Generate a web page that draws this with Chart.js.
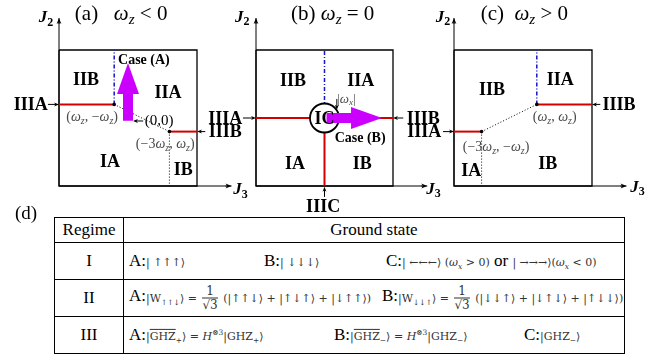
<!DOCTYPE html>
<html>
<head>
<meta charset="utf-8">
<script src="https://cdn.jsdelivr.net/npm/chart.js@4.4.0/dist/chart.umd.min.js"></script>
<style>
	body {margin: 0; width: 657px; height: 358px; overflow: hidden; position: relative; background: #fff; font-family: "Liberation Serif", serif;}
	canvas {position: absolute; left: 0; top: 0;}
	#dlab {position: absolute; left: 15px; top: 202px; font-size: 19px;}
	#tab {position: absolute; left: 54px; top: 217px; width: 571px; border-collapse: collapse; font-size: 17px;}
	#tab td {border: 1.3px solid #000; padding: 0; vertical-align: middle;}
	#tab td.c1 {width: 68px; text-align: center;}
	#tab tr.h td {height: 24px;}
	#tab tr.r td {height: 36px;}
	.row {position: relative; height: 36px;}
	.row > span {position: absolute; top: 50%; transform: translateY(-50%); white-space: nowrap;}
	.k {font-family: "DejaVu Serif", serif; font-size: 11px; color: #333;}
	.k sub {font-size: 7.5px;}
	.k sup {font-size: 7.5px;}
	.fr {display: inline-block; vertical-align: middle; text-align: center; font-size: 12px; line-height: 13px; margin: 0 2px;}
	.fr span {display: block;}
	.fr .dn {border-top: 1px solid #333;}
	.ov {text-decoration: overline;}
</style>
</head>
<body>
<canvas id="pa" width="657" height="215"></canvas>
<canvas id="pb" width="657" height="215"></canvas>
<canvas id="pc" width="657" height="215"></canvas>
<div id="dlab">(d)</div>
<table id="tab">
	<tr class="h"><td class="c1">Regime</td><td style="text-align:center">Ground state</td></tr>
	<tr class="r"><td class="c1">I</td><td><div class="row">
		<span style="left:5px">A:<span class="k">| ↑↑↑⟩</span></span>
		<span style="left:140px">B:<span class="k">| ↓↓↓⟩</span></span>
		<span style="left:262px">C:<span class="k">| ←←←⟩ (<i>ω<sub>x</sub></i> &gt; 0)</span> or <span class="k">| →→→⟩(<i>ω<sub>x</sub></i> &lt; 0)</span></span>
	</div></td></tr>
	<tr class="r"><td class="c1">II</td><td><div class="row">
		<span style="left:5px">A:<span class="k">|W<sub>↑↑↓</sub>⟩ = <span class="fr"><span>1</span><span class="dn">√3</span></span> (|↑↑↓⟩ + |↑↓↑⟩ + |↓↑↑⟩)</span></span>
		<span style="left:258px">B:<span class="k">|W<sub>↓↓↑</sub>⟩ = <span class="fr"><span>1</span><span class="dn">√3</span></span> (|↓↓↑⟩ + |↓↑↓⟩ + |↑↓↓⟩)</span></span>
	</div></td></tr>
	<tr class="r"><td class="c1">III</td><td><div class="row">
		<span style="left:5px">A:<span class="k">|<span class="ov">GHZ</span><sub>+</sub>⟩ = <i>H</i><sup>⊗3</sup>|GHZ<sub>+</sub>⟩</span></span>
		<span style="left:210px">B:<span class="k">|<span class="ov">GHZ</span><sub>−</sub>⟩ = <i>H</i><sup>⊗3</sup>|GHZ<sub>−</sub>⟩</span></span>
		<span style="left:400px">C:<span class="k">|GHZ<sub>−</sub>⟩</span></span>
	</div></td></tr>
</table>
<script>
	// every panel: J3 along x, J2 along y, box is [-5,5] x [-5,5], |ω_z| = 1
	var boxJ3 = [-5, 5, 5, -5, -5];
	var boxJ2 = [5, 5, -5, -5, 5];
	var axisUpJ3 = [-5, -5], axisUpJ2 = [-5, 7.35];
	var axisRightJ3 = [-5, 7.5], axisRightJ2 = [-5, -5];

	// (a) ω_z < 0
	var aRedLeftJ3 = [-5, -1], aRedLeftJ2 = [1, 1];
	var aRedRightJ3 = [3, 5], aRedRightJ2 = [-1, -1];
	var aBlueJ3 = [-1, -1], aBlueJ2 = [1, 5];
	var aDotJ3 = [-1, 3], aDotJ2 = [1, -1];
	var aDropJ3 = [3, 3], aDropJ2 = [-1, -5];
	var aCornerJ3 = [-1, 3], aCornerJ2 = [1, -1];
	var aCaseJ3 = [0, 0], aCaseJ2 = [-0.2, 4.05];

	// (b) ω_z = 0
	var bRedHJ3 = [-5, 5], bRedHJ2 = [0, 0];
	var bRedVJ3 = [0, 0], bRedVJ2 = [0, -5];
	var bBlueJ3 = [0, 0], bBlueJ2 = [0, 5];
	var bCentreJ3 = [0], bCentreJ2 = [0];
	var bCaseJ3 = [0.15, 4.2], bCaseJ2 = [0, 0];

	// (c) ω_z > 0
	var cRedLeftJ3 = [-5, -3], cRedLeftJ2 = [-1, -1];
	var cRedRightJ3 = [1, 5], cRedRightJ2 = [1, 1];
	var cBlueJ3 = [1, 1], cBlueJ2 = [1, 5];
	var cDotJ3 = [-3, 1], cDotJ2 = [-1, 1];
	var cDropJ3 = [-3, -3], cDropJ2 = [-1, -5];
	var cCornerJ3 = [-3, 1], cCornerJ2 = [-1, 1];

	var SERIF = '"Liberation Serif", "DejaVu Serif", serif';
	var RED = '#d40000', BLUE = '#1414c8', MAGENTA = '#cc00ff', GREY = '#4a4a4a';

	function seg(xs, ys) {
		return xs.map(function(v, i) { return {x: v, y: ys[i]}; });
	}

	function lineSet(xs, ys, color, width, dash, order) {
		return {
			data: seg(xs, ys), showLine: true, borderColor: color, borderWidth: width,
			borderDash: dash || [], pointRadius: 0, clip: false, order: order
		};
	}

	function dotSet(xs, ys) {
		return {data: seg(xs, ys), showLine: false, pointRadius: 1.8, pointBackgroundColor: '#000', pointBorderWidth: 0, clip: false, order: 0};
	}

	function fontFor(style, size) {
		if(style == 'b') return 'bold ' + size + 'px ' + SERIF;
		if(style == 'bi') return 'bold italic ' + size + 'px ' + SERIF;
		if(style == 'bs') return 'bold ' + Math.round(size * 0.7) + 'px ' + SERIF;
		if(style == 'i') return 'italic ' + size + 'px ' + SERIF;
		if(style == 's') return 'italic ' + Math.round(size * 0.7) + 'px ' + SERIF;
		return size + 'px ' + SERIF;
	}

	function drawRich(ctx, parts, x, y, size, color) {
		ctx.save();
		ctx.fillStyle = color;
		ctx.textAlign = 'left';
		ctx.textBaseline = 'alphabetic';
		var w = 0;
		parts.forEach(function(p) {
			ctx.font = fontFor(p[1], size);
			w += ctx.measureText(p[0]).width;
		});
		var cx = x - w / 2, base = y + size * 0.33;
		parts.forEach(function(p) {
			ctx.font = fontFor(p[1], size);
			var dy = (p[1] == 's' || p[1] == 'bs') ? size * 0.22 : 0;
			ctx.fillText(p[0], cx, base + dy);
			cx += ctx.measureText(p[0]).width;
		});
		ctx.restore();
	}

	function pointer(ctx, x1, y1, x2, y2, head) {
		var a = Math.atan2(y2 - y1, x2 - x1);
		ctx.save();
		ctx.strokeStyle = '#000';
		ctx.fillStyle = '#000';
		ctx.lineWidth = 1;
		ctx.beginPath();
		ctx.moveTo(x1, y1);
		ctx.lineTo(x2 - Math.cos(a) * head * 0.6, y2 - Math.sin(a) * head * 0.6);
		ctx.stroke();
		ctx.beginPath();
		ctx.moveTo(x2, y2);
		ctx.lineTo(x2 - head * Math.cos(a) + head * 0.4 * Math.sin(a), y2 - head * Math.sin(a) - head * 0.4 * Math.cos(a));
		ctx.lineTo(x2 - head * 0.7 * Math.cos(a), y2 - head * 0.7 * Math.sin(a));
		ctx.lineTo(x2 - head * Math.cos(a) - head * 0.4 * Math.sin(a), y2 - head * Math.sin(a) + head * 0.4 * Math.cos(a));
		ctx.closePath();
		ctx.fill();
		ctx.restore();
	}

	function bigArrow(ctx, x1, y1, x2, y2) {
		var a = Math.atan2(y2 - y1, x2 - x1);
		var len = Math.hypot(x2 - x1, y2 - y1);
		var body = 5, headW = 11, headL = 31;
		ctx.save();
		ctx.translate(x1, y1);
		ctx.rotate(a);
		ctx.fillStyle = MAGENTA;
		ctx.beginPath();
		ctx.moveTo(0, -body);
		ctx.lineTo(len - headL, -body);
		ctx.lineTo(len - headL, -headW);
		ctx.lineTo(len, 0);
		ctx.lineTo(len - headL, headW);
		ctx.lineTo(len - headL, body);
		ctx.lineTo(0, body);
		ctx.closePath();
		ctx.fill();
		ctx.restore();
	}

	function bold(t) { return [[t, 'b']]; }
	function J(n) { return [['J', 'bi'], [n, 'bs']]; }

	var annotate = {
		id: 'annotate',
		afterDatasetsDraw: function(chart) {
			var ctx = chart.ctx, sx = chart.scales.x, sy = chart.scales.y;
			var extra = chart.options.plugins.annotate;
			var px = function(v) { return sx.getPixelForValue(v); };
			var py = function(v) { return sy.getPixelForValue(v); };

			// axis arrow heads
			pointer(ctx, px(axisUpJ3[1]), py(axisUpJ2[1]) + 6, px(axisUpJ3[1]), py(axisUpJ2[1]), 6);
			pointer(ctx, px(axisRightJ3[1]) - 6, py(axisRightJ2[1]), px(axisRightJ3[1]), py(axisRightJ2[1]), 6);

			(extra.arrows || []).forEach(function(ar) {
				bigArrow(ctx, px(ar[0][0]), py(ar[1][0]), px(ar[0][1]), py(ar[1][1]));
			});
			(extra.pointers || []).forEach(function(p) {
				pointer(ctx, px(p[0]), py(p[1]), px(p[2]), py(p[3]), 5);
			});
			(extra.labels || []).forEach(function(l) {
				drawRich(ctx, l.p, px(l.x), py(l.y), l.s, l.c || '#000');
			});
		}
	};

	function makePanel(id, pad, datasets, extra) {
		var base = [
			lineSet(boxJ3, boxJ2, '#000', 1.3, null, 5),
			lineSet(axisUpJ3, axisUpJ2, '#000', 1, null, 5),
			lineSet(axisRightJ3, axisRightJ2, '#000', 1, null, 5)
		];
		return new Chart(document.getElementById(id), {
			type: 'scatter',
			data: {datasets: datasets.concat(base)},
			options: {
				responsive: false,
				animation: false,
				events: [],
				layout: {padding: pad},
				scales: {
					x: {type: 'linear', min: -5, max: 5, display: false},
					y: {type: 'linear', min: -5, max: 5, display: false}
				},
				plugins: {legend: {display: false}, tooltip: {enabled: false}, annotate: extra}
			},
			plugins: [annotate]
		});
	}

	var wz = [['ω', 'i'], ['z', 's']];

	makePanel('pa', {left: 59, top: 50, right: 460, bottom: 29}, [
		dotSet(aCornerJ3, aCornerJ2),
		lineSet(aRedLeftJ3, aRedLeftJ2, RED, 2, null, 1),
		lineSet(aRedRightJ3, aRedRightJ2, RED, 2, null, 1),
		lineSet(aBlueJ3, aBlueJ2, BLUE, 1.5, [4, 2, 1, 2], 2),
		lineSet(aDotJ3, aDotJ2, '#000', 1, [1, 2], 3),
		lineSet(aDropJ3, aDropJ2, '#000', 1, [1, 2], 3)
	], {
		arrows: [[aCaseJ3, aCaseJ2]],
		pointers: [[-5.8, 1, -5, 1], [5.6, -1, 5, -1], [1.1, -0.22, 0.36, -0.22]],
		labels: [
			{p: [['(a)   ', 'r']].concat(wz, [[' < 0', 'r']]), x: -0.5, y: 7.75, s: 21},
			{p: J('2'), x: -5.95, y: 7.45, s: 17},
			{p: J('3'), x: 8.15, y: -5.2, s: 17},
			{p: bold('IIB'), x: -3.05, y: 2.85, s: 18},
			{p: bold('IIA'), x: 2.9, y: 1.9, s: 18},
			{p: bold('IA'), x: -1.3, y: -3.15, s: 18},
			{p: bold('IB'), x: 4.0, y: -3.75, s: 18},
			{p: bold('IIIA'), x: -7.05, y: 1, s: 18},
			{p: bold('IIIB'), x: 7.05, y: -0.95, s: 18},
			{p: [['Case (A)', 'b']], x: 1.15, y: 4.3, s: 14},
			{p: [['(', 'r']].concat(wz, [[', −', 'r']], wz, [[')', 'r']]), x: -2.6, y: 0.15, s: 14, c: GREY},
			{p: [['(0,0)', 'r']], x: 2.25, y: -0.15, s: 15},
			{p: [['(−3', 'r']].concat(wz, [[', ', 'r']], wz, [[')', 'r']]), x: 2.7, y: -1.85, s: 14, c: GREY}
		]
	});

	makePanel('pb', {left: 256, top: 50, right: 264, bottom: 29}, [
		{data: seg(bCentreJ3, bCentreJ2), showLine: false, pointRadius: 14.5, pointBackgroundColor: '#fff', pointBorderColor: '#000', pointBorderWidth: 1.8, clip: false, order: 0},
		lineSet(bRedHJ3, bRedHJ2, RED, 2, null, 1),
		lineSet(bRedVJ3, bRedVJ2, RED, 2, null, 1),
		lineSet(bBlueJ3, bBlueJ2, BLUE, 1.5, [4, 2, 1, 2], 2)
	], {
		arrows: [[bCaseJ3, bCaseJ2]],
		pointers: [[-5.95, 0, -5, 0], [5.75, 0, 5, 0], [0, -5.8, 0, -5.05], [0.9, 1.4, 0.9, 0.6]],
		labels: [
			{p: [['(b) ', 'r']].concat(wz, [[' = 0', 'r']]), x: 0.6, y: 7.75, s: 21},
			{p: J('2'), x: -6.0, y: 7.5, s: 17},
			{p: J('3'), x: 7.95, y: -5.15, s: 17},
			{p: bold('IIB'), x: -2.3, y: 2.8, s: 18},
			{p: bold('IIA'), x: 2.65, y: 2.8, s: 18},
			{p: bold('IA'), x: -2.15, y: -3.3, s: 18},
			{p: bold('IB'), x: 2.75, y: -3.3, s: 18},
			{p: bold('IC'), x: 0, y: 0, s: 18},
			{p: bold('IIIA'), x: -7.25, y: 0, s: 18},
			{p: bold('IIIB'), x: 7.2, y: 0, s: 18},
			{p: bold('IIIC'), x: -0.1, y: -6.45, s: 18},
			{p: [['Case (B)', 'b']], x: 2.6, y: -1.4, s: 14},
			{p: [['|', 'r'], ['ω', 'i'], ['x', 's'], ['|', 'r']], x: 1.6, y: 1.45, s: 13, c: GREY}
		]
	});

	makePanel('pc', {left: 454, top: 50, right: 65, bottom: 29}, [
		dotSet(cCornerJ3, cCornerJ2),
		lineSet(cRedLeftJ3, cRedLeftJ2, RED, 2, null, 1),
		lineSet(cRedRightJ3, cRedRightJ2, RED, 2, null, 1),
		lineSet(cBlueJ3, cBlueJ2, BLUE, 1.5, [4, 2, 1, 2], 2),
		lineSet(cDotJ3, cDotJ2, '#000', 1, [1, 2], 3),
		lineSet(cDropJ3, cDropJ2, '#000', 1, [1, 2], 3)
	], {
		pointers: [[-5.8, -1, -5, -1], [5.6, 1, 5, 1]],
		labels: [
			{p: [['(c)  ', 'r']].concat(wz, [[' > 0', 'r']]), x: 0.1, y: 7.75, s: 21},
			{p: J('2'), x: -5.8, y: 7.5, s: 17},
			{p: J('3'), x: 8.3, y: -5.0, s: 17},
			{p: bold('IIB'), x: -2.25, y: 2.15, s: 18},
			{p: bold('IIA'), x: 2.7, y: 2.85, s: 18},
			{p: bold('IB'), x: 1.8, y: -3.3, s: 18},
			{p: bold('IA'), x: -3.75, y: -3.8, s: 18},
			{p: bold('IIIA'), x: -7.15, y: -0.95, s: 18},
			{p: bold('IIIB'), x: 6.95, y: 1, s: 18},
			{p: [['(', 'r']].concat(wz, [[', ', 'r']], wz, [[')', 'r']]), x: 2.3, y: 0.15, s: 14, c: GREY},
			{p: [['(−3', 'r']].concat(wz, [[', −', 'r']], wz, [[')', 'r']]), x: -1.95, y: -2.05, s: 14, c: GREY}
		]
	});
</script>
</body>
</html>
